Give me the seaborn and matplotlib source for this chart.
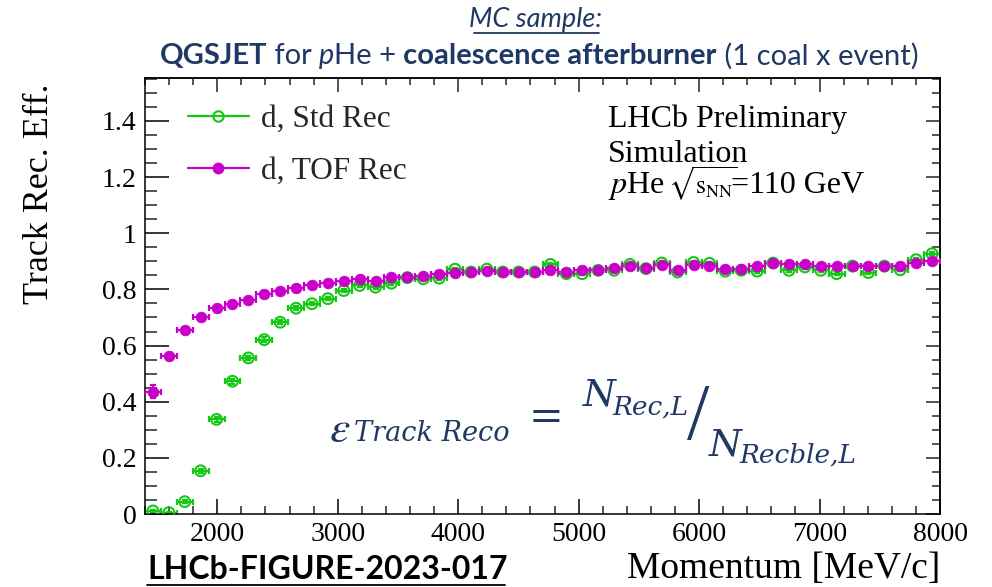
import numpy as np
import pandas as pd
import matplotlib
matplotlib.use("Agg")
import matplotlib.pyplot as plt
import seaborn as sns
from matplotlib.offsetbox import HPacker, TextArea, AnchoredOffsetbox
from matplotlib.lines import Line2D
from matplotlib.ticker import MultipleLocator, FuncFormatter

# ---------------- data ----------------
momentum = [1466, 1598, 1730, 1862, 1994, 2126, 2258, 2390, 2522, 2654,
            2786, 2918, 3050, 3182, 3314, 3446, 3578, 3710, 3842, 3974,
            4106, 4238, 4370, 4502, 4634, 4766, 4898, 5030, 5162, 5294,
            5426, 5558, 5690, 5822, 5954, 6086, 6218, 6350, 6482, 6614,
            6746, 6878, 7010, 7142, 7274, 7406, 7538, 7670, 7802, 7934]
bin_half_width = 66

eff_std = [0.011, 0.005, 0.044, 0.154, 0.337, 0.473, 0.556, 0.621, 0.683, 0.733,
           0.749, 0.767, 0.796, 0.814, 0.808, 0.822, 0.842, 0.838, 0.840, 0.872,
           0.862, 0.872, 0.862, 0.862, 0.862, 0.889, 0.856, 0.856, 0.868, 0.868,
           0.889, 0.874, 0.894, 0.862, 0.896, 0.893, 0.865, 0.868, 0.865, 0.894,
           0.868, 0.880, 0.868, 0.856, 0.883, 0.860, 0.883, 0.870, 0.906, 0.927]
err_std = [0.004, 0.003, 0.006, 0.008, 0.009, 0.009, 0.008, 0.008, 0.007, 0.007,
           0.006, 0.006, 0.006, 0.006, 0.006, 0.006, 0.006, 0.006, 0.006, 0.006,
           0.006, 0.006, 0.006, 0.006, 0.006, 0.006, 0.006, 0.006, 0.006, 0.006,
           0.006, 0.006, 0.006, 0.006, 0.006, 0.006, 0.006, 0.006, 0.006, 0.006,
           0.006, 0.006, 0.006, 0.006, 0.006, 0.006, 0.006, 0.006, 0.006, 0.006]

eff_tof = [0.436, 0.562, 0.656, 0.701, 0.735, 0.749, 0.763, 0.782, 0.794, 0.805,
           0.814, 0.824, 0.830, 0.836, 0.830, 0.844, 0.844, 0.846, 0.856, 0.860,
           0.862, 0.865, 0.863, 0.862, 0.862, 0.868, 0.862, 0.870, 0.868, 0.876,
           0.882, 0.876, 0.888, 0.870, 0.886, 0.883, 0.874, 0.874, 0.883, 0.894,
           0.889, 0.889, 0.883, 0.883, 0.883, 0.883, 0.883, 0.883, 0.895, 0.900]
err_tof = [0.022, 0.010, 0.008, 0.007, 0.006, 0.006, 0.006, 0.006, 0.005, 0.005,
           0.005, 0.005, 0.005, 0.005, 0.005, 0.005, 0.005, 0.005, 0.005, 0.005,
           0.005, 0.005, 0.005, 0.005, 0.005, 0.005, 0.005, 0.005, 0.005, 0.005,
           0.005, 0.005, 0.005, 0.005, 0.005, 0.005, 0.005, 0.005, 0.005, 0.005,
           0.005, 0.005, 0.005, 0.005, 0.005, 0.005, 0.005, 0.005, 0.005, 0.005]

series_labels = ["d, Std Rec", "d, TOF Rec"]
y_ticks = [0, 0.2, 0.4, 0.6, 0.8, 1.0, 1.2, 1.4]
x_ticks = [2000, 3000, 4000, 5000, 6000, 7000, 8000]

# ---------------- style ----------------
sns.set_theme(style="ticks")
plt.rcParams["font.family"] = ["Liberation Serif", "DejaVu Serif"]
plt.rcParams["mathtext.fontset"] = "stix"

GREEN = "#14C814"
MAG = "#C800C8"
NAVY = "#1F3864"
SERIF = ["Liberation Serif", "DejaVu Serif"]
SANS = ["Lato", "DejaVu Sans"]

W, H = 992, 587
fig = plt.figure(figsize=(W / 100, H / 100), dpi=100)
fig.patch.set_facecolor("white")


def fx(px):
    return px / W


def fy(py):
    return 1 - py / H


ax = fig.add_axes([fx(145), fy(514), fx(940) - fx(145), fy(78) - fy(514)])
ax.set_facecolor("white")

df_std = pd.DataFrame({"p": momentum, "eff": eff_std, "err": err_std})
df_tof = pd.DataFrame({"p": momentum, "eff": eff_tof, "err": err_tof})

ax.errorbar(df_std["p"], df_std["eff"], xerr=bin_half_width, yerr=df_std["err"],
            fmt="none", ecolor=GREEN, elinewidth=1.6, capsize=2.3, capthick=1.6, zorder=2)
ax.errorbar(df_tof["p"], df_tof["eff"], xerr=bin_half_width, yerr=df_tof["err"],
            fmt="none", ecolor=MAG, elinewidth=1.6, capsize=2.3, capthick=1.6, zorder=3)

sns.scatterplot(data=df_std, x="p", y="eff", ax=ax, color=GREEN, s=60,
                marker="o", edgecolor=GREEN, linewidth=1.5, zorder=4, legend=False)
ax.collections[-1].set_facecolor("none")
sns.scatterplot(data=df_tof, x="p", y="eff", ax=ax, color=MAG, s=60,
                marker="o", edgecolor=MAG, linewidth=0.5, zorder=5, legend=False)

ax.set_xlim(1400, 8000)
ax.set_ylim(0, 1.553)
ax.set_xlabel("")
ax.set_ylabel("")

ax.set_xticks(x_ticks)
ax.set_yticks(y_ticks)
ax.xaxis.set_minor_locator(MultipleLocator(200))
ax.yaxis.set_minor_locator(MultipleLocator(0.05))
ax.yaxis.set_major_formatter(FuncFormatter(lambda v, p: f"{v:g}"))
ax.xaxis.set_major_formatter(FuncFormatter(lambda v, p: f"{v:g}"))

for s in ax.spines.values():
    s.set_linewidth(1.1)
    s.set_color("black")

ax.tick_params(axis="y", which="major", direction="in", length=17, width=1.1,
               left=True, right=False, labelsize=20, pad=6, colors="black",
               labelfontfamily="Liberation Serif")
ax.tick_params(axis="y", which="minor", direction="in", length=8.5, width=1.1,
               left=True, right=False)
ax.tick_params(axis="x", which="major", direction="in", length=11, width=1.1,
               bottom=True, top=False, labelsize=20, pad=6, colors="black",
               labelfontfamily="Liberation Serif")
ax.tick_params(axis="x", which="minor", direction="in", length=5.5, width=1.1,
               bottom=True, top=False)

sec_y = ax.secondary_yaxis("right")
sec_y.set_yticks(y_ticks)
sec_y.yaxis.set_minor_locator(MultipleLocator(0.05))
sec_y.tick_params(which="major", direction="in", length=10, width=1.1, labelright=False)
sec_y.tick_params(which="minor", direction="in", length=5.5, width=1.1)
sec_x = ax.secondary_xaxis("top")
sec_x.set_xticks(x_ticks)
sec_x.xaxis.set_minor_locator(MultipleLocator(200))
sec_x.tick_params(which="major", direction="in", length=10, width=1.1, labeltop=False)
sec_x.tick_params(which="minor", direction="in", length=5, width=1.1)

# axis titles
fig.text(fx(40), fy(84), "Track Rec. Eff.", rotation=90, ha="center", va="top",
         fontsize=26, family=SERIF, color="black")
fig.text(fx(940), fy(586), "Momentum [MeV/c]", ha="right", va="bottom",
         fontsize=27, family=SERIF, color="black")

# legend
handles = [
    Line2D([], [], color=GREEN, lw=1.6, marker="o", markersize=7.5,
           markerfacecolor="none", markeredgecolor=GREEN, markeredgewidth=1.5),
    Line2D([], [], color=MAG, lw=1.6, marker="o", markersize=7.5,
           markerfacecolor=MAG, markeredgecolor=MAG),
]
leg = fig.legend(handles, series_labels, loc="upper left",
                 bbox_to_anchor=(fx(188), fy(105)), bbox_transform=fig.transFigure,
                 frameon=False, borderpad=0, borderaxespad=0,
                 handlelength=1.94, handletextpad=0.41, labelspacing=0.74,
                 prop={"family": SERIF, "size": 22.5})

# LHCb text
fig.text(fx(608), fy(126.7), "LHCb Preliminary", ha="left", va="baseline",
         fontsize=23, family=SERIF, color="black")
fig.text(fx(608), fy(161.7), "Simulation", ha="left", va="baseline",
         fontsize=23, family=SERIF, color="black")
fig.text(fx(608), fy(193.3), r"$p$He", ha="left", va="baseline",
         fontsize=23, family=SERIF, color="black")
fig.text(fx(668), fy(194.5), r"$\sqrt{\mathrm{s}_{\mathrm{NN}}}$", ha="left", va="baseline",
         fontsize=18.5, family=SERIF, color="black")
fig.text(fx(731), fy(193.3), "=110 GeV", ha="left", va="baseline",
         fontsize=23, family=SERIF, color="black")

# headline
fig.text(fx(536), fy(27), "MC sample:", ha="center", va="baseline",
         fontsize=19.5, family=SANS, style="italic", color=NAVY)
fig.add_artist(Line2D([fx(474), fx(599)], [fy(33), fy(33)], color=NAVY, lw=1.3,
                      transform=fig.transFigure))

parts = [("QGSJET", "bold", "normal"), (" for", "normal", "normal"),
         (" p", "normal", "italic"), ("He +", "normal", "normal"),
         (" coalescence afterburner", "bold", "normal"),
         (" (1 coal x event)", "normal", "normal")]
areas = [TextArea(t, textprops=dict(family=SANS, fontsize=21, weight=w,
                                    style=st, color=NAVY)) for t, w, st in parts]
pack = HPacker(children=areas, align="baseline", pad=0, sep=0)
anch = AnchoredOffsetbox(loc="center", child=pack, pad=0, borderpad=0, frameon=False,
                         bbox_to_anchor=(fx(539), fy(56)), bbox_transform=fig.transFigure)
fig.add_artist(anch)

# figure id
fig.text(fx(147), fy(579), "LHCb-FIGURE-2023-017", ha="left", va="baseline",
         fontsize=23, family=SANS, weight="bold", color="black")
fig.add_artist(Line2D([fx(147), fx(505)], [fy(584.5), fy(584.5)], color="black", lw=1.3,
                      transform=fig.transFigure))

# efficiency formula
FORM = ["DejaVu Serif"]
fig.text(fx(329), fy(442), r"$\varepsilon$", ha="left", va="baseline",
         fontsize=33, color=NAVY, family=FORM)
fig.text(fx(354), fy(441), "Track Reco", ha="left", va="baseline",
         fontsize=19.5, style="italic", color=NAVY, family=FORM)
fig.text(fx(546), fy(418), "=", ha="center", va="center",
         fontsize=30, color=NAVY, family=FORM)
fig.text(fx(583), fy(405), "N", ha="left", va="baseline",
         fontsize=27, style="italic", color=NAVY, family=FORM)
fig.text(fx(612), fy(415), "Rec,L", ha="left", va="baseline",
         fontsize=19, style="italic", color=NAVY, family=FORM)
fig.text(fx(698), fy(419), "/", ha="center", va="center",
         fontsize=58, color=NAVY, family=["Liberation Serif"])
fig.text(fx(709), fy(455), "N", ha="left", va="baseline",
         fontsize=27, style="italic", color=NAVY, family=FORM)
fig.text(fx(739), fy(463), "Recble,L", ha="left", va="baseline",
         fontsize=19, style="italic", color=NAVY, family=FORM)

fig.savefig("out.png", dpi=100, facecolor="white")
